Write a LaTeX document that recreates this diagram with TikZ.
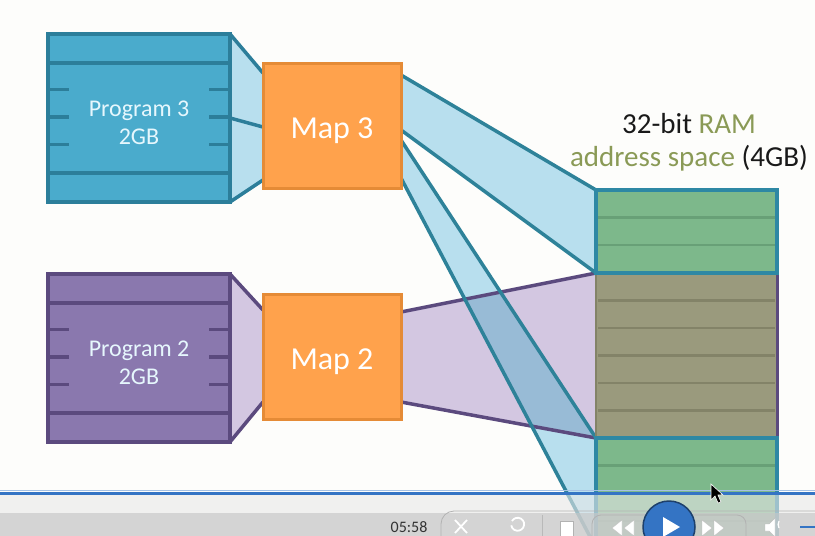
\documentclass[tikz,border=0pt]{standalone}
\usepackage{fontspec}
\setmainfont{Carlito}
\usepackage{tikz}
\usetikzlibrary{backgrounds}
\definecolor{prog3fill}{HTML}{4AABCC}
\definecolor{prog3line}{HTML}{2C7E9A}
\definecolor{prog2fill}{HTML}{8A78AE}
\definecolor{prog2line}{HTML}{5B4A7E}
\definecolor{mapfill}{HTML}{FFA24C}
\definecolor{mapline}{HTML}{E58B36}
\definecolor{map3band}{HTML}{B8DFEE}
\definecolor{map2band}{HTML}{D3C7E1}
\definecolor{bandmix}{HTML}{98BBD6}
\definecolor{bandline}{HTML}{2E8299}
\definecolor{ramgreen}{HTML}{7DB88B}
\definecolor{ramgreenline}{HTML}{68A077}
\definecolor{ramolive}{HTML}{9A9A7D}
\definecolor{ramoliveline}{HTML}{838368}
\definecolor{ramborder}{HTML}{2E88A4}
\definecolor{ramtext}{HTML}{8A9A56}
\definecolor{playerblue}{HTML}{3474C4}
\definecolor{paper}{HTML}{FDFDFB}

\tikzset{
  progbox/.style={draw, line width=3.5pt, inner sep=0pt, outer sep=0pt, anchor=north west,
    minimum width=182pt, minimum height=168pt},
  progtext/.style={align=center, text=white!90!cyan, font=\fontsize{24}{28}\selectfont},
  mapbox/.style={draw=mapline, fill=mapfill, line width=3pt, inner sep=0pt, outer sep=0pt,
    anchor=north west, minimum width=138pt, minimum height=125pt},
  maptext/.style={text=white, font=\fontsize{32}{36}\selectfont},
  ramrow/.style={fill=ramgreen, draw=ramborder, line width=3.5pt, inner sep=0pt, outer sep=0pt,
    anchor=north west, minimum width=181pt},
  bandedge/.style={line width=3.5pt, line cap=round}
}

\begin{document}
\begin{tikzpicture}[x=1pt,y=-1pt]
    \useasboundingbox (0,0) rectangle (815,536);
    \clip (0,0) rectangle (815,536);
    \node[progbox, fill=prog3fill, draw=prog3line] (prog3) at (48,34) {};  %Programm 3
    \node[progbox, fill=prog2fill, draw=prog2line] (prog2) at (48,274) {};  %Programm 2
    \foreach \prog/\col in {prog3/prog3line, prog2/prog2line}
    {
      \draw[\col, line width=3.5pt] ([yshift=-29pt]\prog.north west) -- ([yshift=-29pt]\prog.north east);
      \draw[\col, line width=3.5pt] ([yshift=29pt]\prog.south west) -- ([yshift=29pt]\prog.south east);
      \foreach \k in {-1,0,1}
      {
        \draw[\col, line width=3.5pt] ([yshift=\k*27.5pt+1pt]\prog.west) -- ++(21pt,0);
        \draw[\col, line width=3.5pt] ([yshift=\k*27.5pt+1pt]\prog.east) -- ++(-21pt,0);
      }
    }
    \node[progtext] (prog3text) at ([yshift=-4.5pt]prog3.center) {Program 3\\2GB};
    \node[progtext] (prog2text) at ([yshift=-4.5pt]prog2.center) {Program 2\\2GB};
    \node[mapbox] (map3) at (263,63) {};
    \node[mapbox] (map2) at (263,294) {};
    \node[maptext] (map3text) at ([yshift=-5pt]map3.center) {Map 3};
    \node[maptext] (map2text) at ([yshift=-5pt]map2.center) {Map 2};
    \node[fill=ramolive, inner sep=0pt, outer sep=0pt, anchor=north west, minimum width=181pt, minimum height=165pt] (ramB) at (596,273) {};  %belegt
    \foreach \k in {1,...,5}
    {
      \draw[ramoliveline, line width=2.5pt] ([xshift=2pt,yshift=-\k*27.5pt]ramB.north west) -- ([xshift=-2pt,yshift=-\k*27.5pt]ramB.north east);
    }
    \draw[ramoliveline, line width=1.5pt] (ramB.north west) -- (ramB.south west);
    \draw[prog2line, line width=3pt] (ramB.north east) -- (ramB.south east);
    \node[ramrow, minimum height=83pt] (ramA) at (596,190) {};  %frei oben
    \node[ramrow, minimum height=110pt] (ramC) at (596,438) {};  %frei unten
    \foreach \ram/\n in {ramA/2, ramC/3}
    {
      \foreach \k in {1,...,\n}
      {
        \draw[ramgreenline, line width=2.5pt] ([xshift=2pt,yshift=-\k*27.6pt]\ram.north west) -- ([xshift=-2pt,yshift=-\k*27.6pt]\ram.north east);
      }
    }
    \node[align=center, text=black!90, font=\fontsize{29}{33}\selectfont] (ramlabel) at (689,142)
      {32-bit \textcolor{ramtext}{RAM}\\\textcolor{ramtext}{address space} (4GB)};
    \coordinate (p3a) at ([yshift=-10pt]map3.north west);
    \coordinate (p3b) at ([yshift=8pt]map3.south west);
    \coordinate (p3c) at ([yshift=-1.5pt]map3.west);
    \coordinate (p2a) at ([yshift=-16pt]map2.north west);
    \coordinate (p2b) at ([yshift=17pt]map2.south west);
    \coordinate (m3a) at ([yshift=-12pt]map3.north east);
    \coordinate (m3b) at ([yshift=-4.5pt]map3.east);
    \coordinate (m3c) at ([yshift=-14.5pt]map3.east);
    \coordinate (m3d) at ([yshift=10pt]map3.south east);
    \coordinate (m2a) at ([yshift=-18pt]map2.north east);
    \coordinate (m2b) at ([yshift=17pt]map2.south east);
    \begin{scope}[on background layer]
      \fill[paper] (0,0) rectangle (815,536);  %Hintergrund
      \fill[map3band] (prog3.north east) -- (p3a) -- (p3b) -- (prog3.south east) -- cycle;
      \fill[map2band] (prog2.north east) -- (p2a) -- (p2b) -- (prog2.south east) -- cycle;
      \draw[bandedge, prog3line] (prog3.north east) -- (p3a) (prog3.east) -- (p3c) (prog3.south east) -- (p3b);
      \draw[bandedge, prog2line] (prog2.north east) -- (p2a) (prog2.south east) -- (p2b);
      \fill[map2band] (m2a) -- (ramB.north west) -- (ramB.south west) -- (m2b) -- cycle;
      \fill[map3band] (m3a) -- (ramA.north west) -- (ramA.south west) -- (m3b) -- cycle;
      \fill[map3band] (m3c) -- (ramB.south west) -- (ramC.south west) -- (m3d) -- cycle;
      \begin{scope}
        \clip (m2a) -- (ramB.north west) -- (ramB.south west) -- (m2b) -- cycle;
        \fill[bandmix] (m3c) -- (ramB.south west) -- (ramC.south west) -- (m3d) -- cycle;  %Ueberlappung
      \end{scope}
      \draw[bandedge, prog2line] (m2a) -- (ramB.north west) (m2b) -- (ramB.south west);
      \draw[bandedge, bandline] (m3a) -- (ramA.north west) (m3b) -- (ramA.south west);
      \draw[bandedge, bandline] (m3c) -- (ramB.south west) (m3d) -- (ramC.south west);
    \end{scope}
    %Player-Leiste
    \fill[gray!18, fill opacity=0.6] (0,495) rectangle (815,536);
    \fill[gray!45, fill opacity=0.65] (0,513) rectangle (815,536);
    \draw[playerblue!45, line width=1pt] (0,490) -- (815,490);
    \draw[playerblue, line width=2.5pt] (0,493.5) -- (815,493.5);
    \node[text=black!80, font=\fontsize{16}{18}\selectfont] (clock) at (409,527) {05:58};
    \draw[gray!60, line width=0.8pt, rounded corners=13pt] (441,511) rectangle (840,560);
    \draw[gray!60, line width=0.8pt, rounded corners=9pt] (592,515) rectangle (746,560);
    \draw[gray!55, line width=0.8pt] (542,515) -- (542,536);
    \draw[white, line width=1.8pt] (512,521) arc (150:-170:6.5pt);  %Wiederholen
    \draw[white, line width=1.8pt] (455,533) -- (467,520) (455,520) -- (467,533);  %Zufall
    \fill[white, draw=gray!60] (560,521) rectangle (573,537);  %Stopp
    \foreach \x in {612,624}
    {
      \fill[white, draw=gray!50] (\x,528) -- (\x+10,520) -- (\x+10,536) -- cycle;
    }
    \foreach \x in {702,714}
    {
      \fill[white, draw=gray!50] (\x+10,528) -- (\x,520) -- (\x,536) -- cycle;
    }
    \fill[white, draw=gray!50] (765,524) -- (769,524) -- (775,518) -- (775,537) -- (769,531) -- (765,531) -- cycle;  %Lautstaerke
    \draw[white, line width=1.2pt] (779,521) arc (-30:30:-7pt);
    \draw[playerblue, line width=2pt] (800,527) -- (815,527);
    \node[circle, minimum size=52pt, inner sep=0pt, fill=playerblue, draw=playerblue!55!black, line width=1.5pt] (play) at (669,527) {};
    \fill[white] ([xshift=-6pt,yshift=10pt]play.center) -- ([xshift=11pt]play.center) -- ([xshift=-6pt,yshift=-10pt]play.center) -- cycle;
    \fill[black, draw=white, line width=0.6pt] (711,484) -- (711,500) -- (715,496) -- (718,503) -- (721,502) -- (718,495) -- (723,495) -- cycle;  %Mauszeiger
\end{tikzpicture}
\end{document}
